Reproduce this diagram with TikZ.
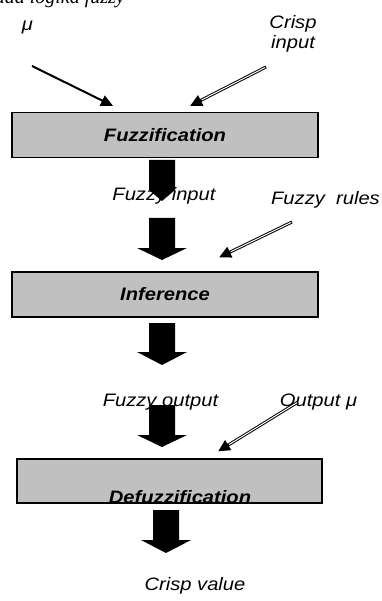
\documentclass[tikz,border=0pt]{standalone}
\usepackage{fontspec}
\setmainfont{Liberation Sans}[FakeStretch=1.12]
\newfontfamily\headfont{Liberation Serif}
\usetikzlibrary{arrows.meta,calc}
\definecolor{boxgray}{RGB}{192,192,192}
\tikzset{
  stage/.style={draw=black, line width=1.2pt, fill=boxgray, minimum width=306pt, minimum height=45pt, inner sep=0pt, font=\fontsize{18}{20}\selectfont\bfseries\itshape},
  stagetext/.style={inner sep=0pt, font=\fontsize{18}{20}\selectfont\bfseries\itshape},
  lbl/.style={inner sep=0pt, font=\fontsize{18}{20}\selectfont\itshape},
  feed/.style={line width=2pt, -{Triangle[length=12pt,width=11pt]}},
  hollow/.style={line width=3pt, -{Triangle[length=12pt,width=11pt]}, postaction={draw=white, line width=1pt, shorten >=13pt, shorten <=1pt, -}},
}
\begin{document}
\begin{tikzpicture}[x=1pt,y=-1pt]
\useasboundingbox (0,0) rectangle (381,601);
% caption, cut off by the top edge
\begin{scope}
\clip (0,0) rectangle (381,601);
\node[inner sep=0pt, font=\fontsize{20}{22}\selectfont\headfont\itshape, anchor=base east] (caption) at (125,3.5) {pada logika fuzzy};
\end{scope}
% stages
\node[stage] (fuzz) at (165,135) {Fuzzification};
\node[stage] (infer) at (165,294.5) {Inference};
\node[stage, minimum width=305pt, minimum height=44pt] (defuzz) at (169.5,481) {};
\node[stagetext, anchor=base] (defuzzlbl) at (180,503) {Defuzzification};
% block arrows down the chain
\foreach \cx/\ya/\yb/\yc/\hw in {162/160/190/201/13, 162/218/248/260/25, 162/323/352/365/25, 162/405/435/447/25, 166/510/540/553/25}
  \fill (\cx-13,\ya) -- (\cx+13,\ya) -- (\cx+13,\yb) -- (\cx+\hw,\yb) -- (\cx,\yc) -- (\cx-\hw,\yb) -- (\cx-13,\yb) -- cycle;
% labels
\node[lbl, anchor=base] (mu) at (27.5,31) {μ};
\node[lbl, align=center] (crisp) at (293,33.5) {Crisp\\input};
\node[lbl, anchor=base] (fin) at (164,201) {Fuzzy input};
\node[lbl, anchor=base] (rules) at (325.5,205) {Fuzzy\ \ rules};
\node[lbl, anchor=base] (fout) at (160.5,406) {Fuzzy output};
\node[lbl, anchor=base] (outmu) at (318.5,406) {Output μ};
\node[lbl, anchor=base] (cval) at (195,590) {Crisp value};
% side inputs
\coordinate (mutail) at (32,66);
\coordinate (crisptail) at (266,67);
\coordinate (rulestail) at (292,222);
\coordinate (outmutail) at (298,402);
\draw[feed] (mutail) -- ($(fuzz.north)+(-52,-6)$);
\draw[hollow] (crisptail) -- ($(fuzz.north)+(25,-6)$);
\draw[hollow] (rulestail) -- ($(infer.north)+(54,-14)$);
\draw[hollow] (outmutail) -- ($(defuzz.north)+(48.5,-7)$);
\end{tikzpicture}
\end{document}
